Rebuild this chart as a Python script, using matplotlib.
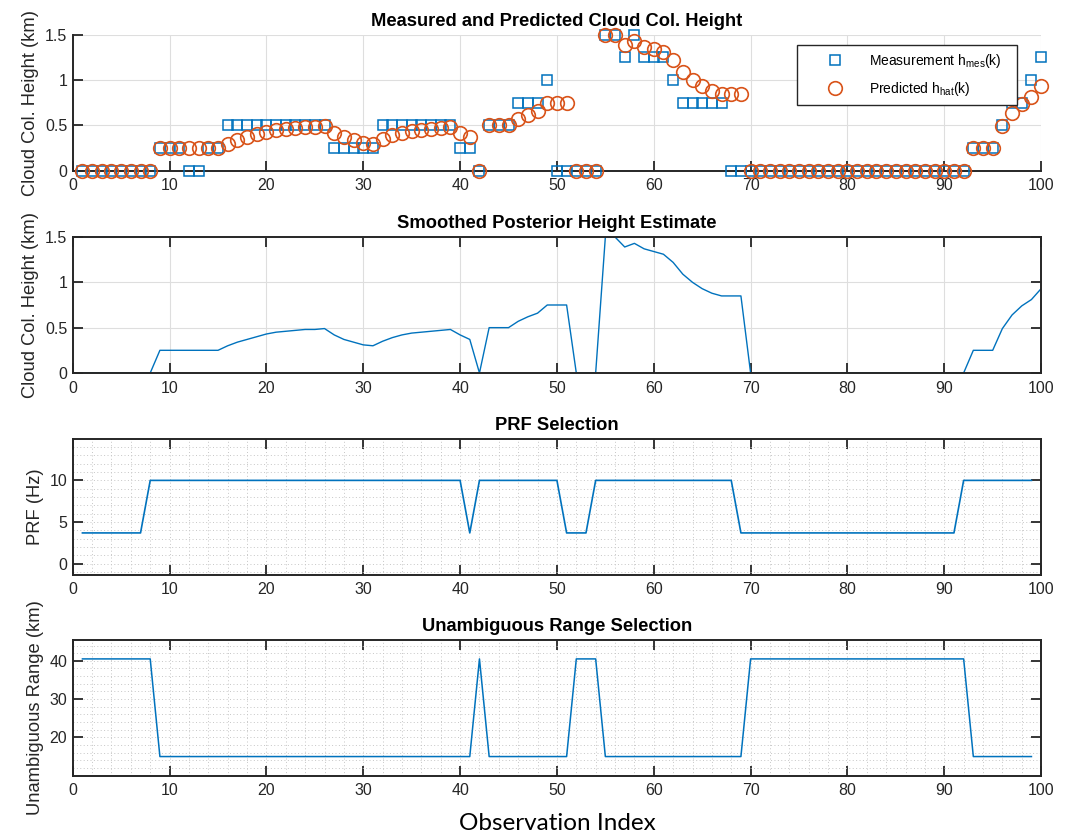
import matplotlib
matplotlib.use("Agg")
import matplotlib.pyplot as plt
from matplotlib.ticker import MultipleLocator, FormatStrFormatter
import numpy as np

plt.rcParams["font.family"] = ["Liberation Sans", "DejaVu Sans"]
plt.rcParams["mathtext.default"] = "regular"

# observation index
k_obs = np.arange(1, 101)
k_sel = np.arange(1, 100)

# measured cloud column height (km)
h_mes = ([0] * 8 + [0.25] * 3 + [0] * 2 + [0.25] * 2 + [0.5] * 11 + [0.25] * 5
         + [0.5] * 8 + [0.25] * 2 + [0] + [0.5] * 3 + [0.75] * 3 + [1.0] + [0] * 5
         + [1.5] * 2 + [1.25, 1.5, 1.25, 1.25, 1.25, 1.0] + [0.75] * 5 + [0] * 25
         + [0.25] * 3 + [0.5, 0.75, 0.75, 1.0, 1.25])

# predicted height h_hat(k) (km)
h_hat = ([0] * 8 + [0.25] * 7
         + [0.30, 0.34, 0.37, 0.40, 0.43, 0.45, 0.46, 0.47, 0.48, 0.48, 0.49]
         + [0.42, 0.37, 0.34, 0.31, 0.30]
         + [0.35, 0.39, 0.42, 0.44, 0.45, 0.46, 0.47, 0.48]
         + [0.42, 0.37, 0] + [0.5] * 3 + [0.57, 0.62, 0.66] + [0.75] * 3 + [0] * 3
         + [1.5, 1.5, 1.39, 1.43, 1.37, 1.34, 1.31, 1.22, 1.09, 1.0, 0.93, 0.88,
            0.85, 0.85, 0.85]
         + [0] * 23 + [0.25] * 3 + [0.49, 0.64, 0.74, 0.81, 0.93])

# smoothed posterior (same as the prediction in this run)
h_smooth = list(h_hat)

# selected PRF (Hz) and resulting unambiguous range (km)
prf = [3.7] * 7 + [10] * 33 + [3.7] + [10] * 9 + [3.7] * 3 + [10] * 15 + [3.7] * 23 + [10] * 8
r_unamb = ([40.5] * 8 + [15] * 33 + [40.5] + [15] * 9 + [40.5] * 3 + [15] * 15
           + [40.5] * 23 + [15] * 7)

BLUE = "#0072BD"
ORANGE = "#D95319"
INK = "#262626"


def style(ax, box=True):
    ax.set_xlim(0, 100)
    ax.xaxis.set_major_locator(MultipleLocator(10))
    ax.yaxis.set_major_formatter(FormatStrFormatter("%g"))
    ax.tick_params(direction="in", length=7, width=1.3, colors=INK,
                   labelsize=11.5, top=box, right=box)
    ax.tick_params(axis="x", pad=5.5)
    ax.tick_params(axis="y", pad=4)
    for s in ax.spines.values():
        s.set_linewidth(1.4)
        s.set_color(INK)
    if not box:
        ax.spines[["top", "right"]].set_visible(False)
    ax.set_axisbelow(True)


def labels(ax, title, ylabel):
    ax.set_title(title, fontsize=13.2, fontweight="bold", pad=6.5, color="black")
    ax.set_ylabel(ylabel, fontsize=13.2, labelpad=4, color=INK)


def minor_grid(ax, ystep):
    ax.xaxis.set_minor_locator(MultipleLocator(2))
    ax.yaxis.set_minor_locator(MultipleLocator(ystep))
    ax.tick_params(which="minor", length=0)
    ax.grid(True, which="both", color="#c6c6c6", lw=0.7, ls=(0, (1, 2.5)))


fig = plt.figure(figsize=(10.81, 8.34), dpi=100)
L, W, H = 0.0673, 0.8958, 0.163

# measured and predicted
ax1 = fig.add_axes([L, 0.7953, W, H])
style(ax1, box=False)
ax1.grid(True, color="#dedede", lw=0.8)
ax1.plot(k_obs, h_mes, "s", ms=7.4, mfc="none", mec=BLUE, mew=1.1,
         clip_on=False, zorder=3, label=r"Measurement h$_{mes}$(k)   ")
ax1.plot(k_obs, h_hat, "o", ms=9.8, mfc="none", mec=ORANGE, mew=1.2,
         clip_on=False, zorder=3, label=r"Predicted h$_{hat}$(k)")
ax1.set_ylim(0, 1.5)
ax1.set_yticks([0, 0.5, 1, 1.5])
labels(ax1, "Measured and Predicted Cloud Col. Height", "Cloud Col. Height (km)")
leg = ax1.legend(loc="upper left", bbox_to_anchor=(0.748, 0.926), borderaxespad=0,
                 fancybox=False, edgecolor=INK, framealpha=1, fontsize=10,
                 handlelength=4.4, handletextpad=0.3, borderpad=0.5, labelspacing=0.75)
leg.get_frame().set_linewidth(1.0)
leg.set_zorder(10)

# smoothed posterior
ax2 = fig.add_axes([L, 0.5528, W, H])
style(ax2)
ax2.grid(True, color="#dedede", lw=0.8)
ax2.plot(k_obs, h_smooth, color=BLUE, lw=1.0)
ax2.set_ylim(0, 1.5)
ax2.set_yticks([0, 0.5, 1, 1.5])
labels(ax2, "Smoothed Posterior Height Estimate", "Cloud Col. Height (km)")

# PRF selection
ax3 = fig.add_axes([L, 0.311, W, H])
style(ax3)
minor_grid(ax3, 1)
ax3.plot(k_sel, prf, color=BLUE, lw=1.2)
ax3.set_ylim(-1.3, 15)
ax3.set_yticks([0, 5, 10])
labels(ax3, "PRF Selection", "PRF (Hz)")

# unambiguous range
ax4 = fig.add_axes([L, 0.0699, W, H])
style(ax4)
minor_grid(ax4, 2)
ax4.plot(k_sel, r_unamb, color=BLUE, lw=1.1)
ax4.set_ylim(10, 45.5)
ax4.set_yticks([20, 30, 40])
labels(ax4, "Unambiguous Range Selection", "Unambiguous Range (km)")
ax4.set_xlabel("Observation Index", fontfamily="Lato", fontsize=17.5,
               labelpad=10.5, color="black")

fig.savefig("out.png", dpi=100)
